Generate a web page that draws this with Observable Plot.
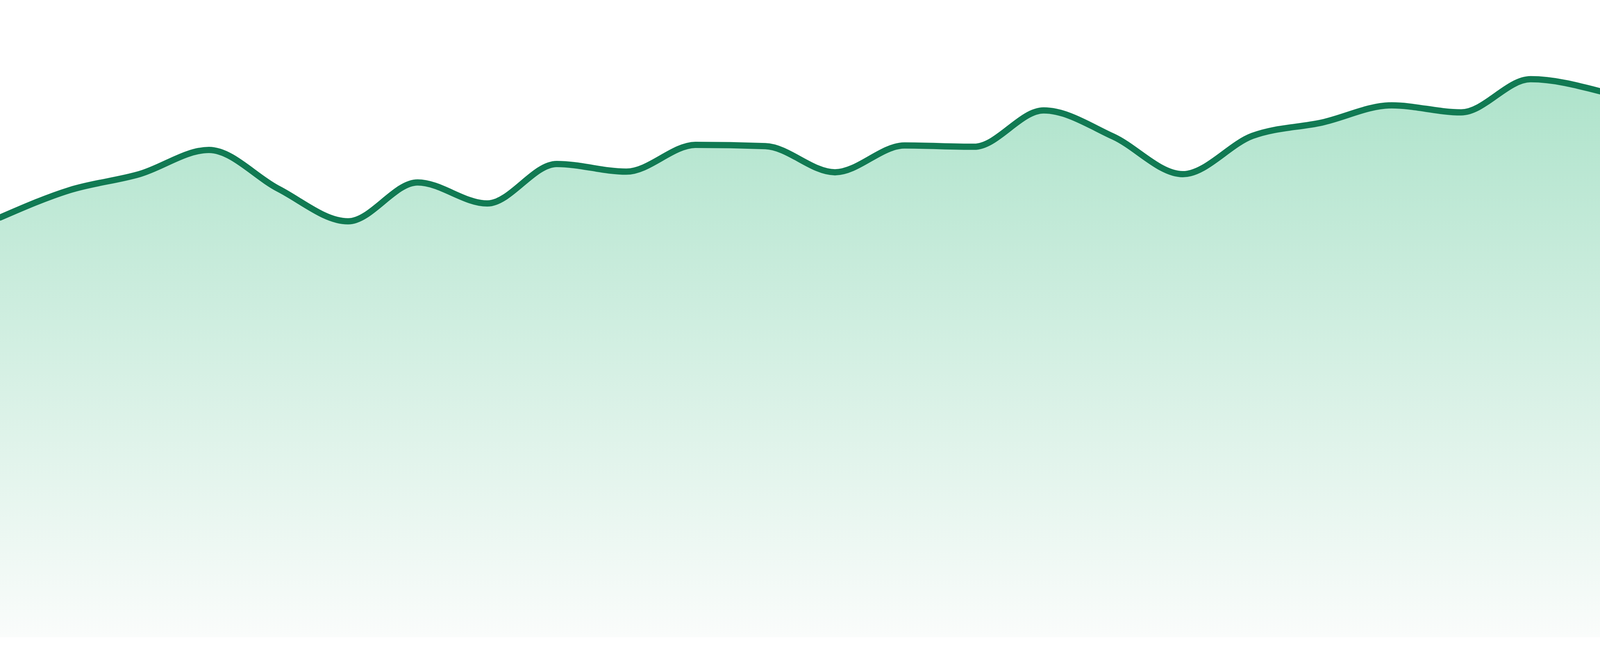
<!DOCTYPE html>
<html>
<head>
<meta charset="utf-8">
<script src="https://cdn.jsdelivr.net/npm/d3@7"></script>
<script src="https://cdn.jsdelivr.net/npm/@observablehq/plot@0.6"></script>
<style>
  html, body { margin: 0; padding: 0; background: #ffffff; overflow: hidden; }
  #chart { line-height: 0; }
  #chart svg { display: block; max-width: none; }
</style>
</head>
<body>
<div id="chart"></div>
<script>
// Data (index along x, value along y on a 0–100 scale)
const steps = [0,1,2,3,4,5,6,7,8,9,10,11,12,13,14,15,16,17,18,19,20,21,22,23];
const values = [65.9, 70.2, 72.7, 76.5, 70.4, 65.3, 71.4, 68.1, 74.3, 73.1, 77.3, 77.1,
                73.0, 77.2, 77.0, 82.7, 78.6, 72.7, 78.7, 80.8, 83.5, 82.4, 87.6, 85.7];
const lineColor = "#117a53";
const gradTop = "#aee3cb";
const gradBottom = "#fafcfb";

const data = steps.map((s, i) => ({step: s, value: values[i]}));

// Fill the actual viewport (reference frame is 4800 x 1680)
const W = window.innerWidth || 4800;
const H = window.innerHeight || 1680;
const sy = H / 1680;

const chart = Plot.plot({
  width: W,
  height: H,
  marginTop: 0,
  marginRight: 0,
  marginLeft: 0,
  marginBottom: 48 * sy,
  x: {domain: [0, 23], axis: null},
  y: {domain: [0, 100], axis: null},
  marks: [
    Plot.areaY(data, {x: "step", y: "value", curve: "monotone-x", fill: "url(#areaGrad)"}),
    Plot.lineY(data, {x: "step", y: "value", curve: "monotone-x", stroke: lineColor, strokeWidth: 16 * sy})
  ]
});

const svg = d3.select(chart);
svg.style("width", W + "px").style("height", H + "px");
const defs = svg.insert("defs", ":first-child");
const g = defs.append("linearGradient")
  .attr("id", "areaGrad")
  .attr("x1", 0).attr("y1", 0).attr("x2", 0).attr("y2", 1);
g.append("stop").attr("offset", "0%").attr("stop-color", gradTop);
g.append("stop").attr("offset", "100%").attr("stop-color", gradBottom);

document.getElementById("chart").appendChild(chart);
</script>
</body>
</html>
